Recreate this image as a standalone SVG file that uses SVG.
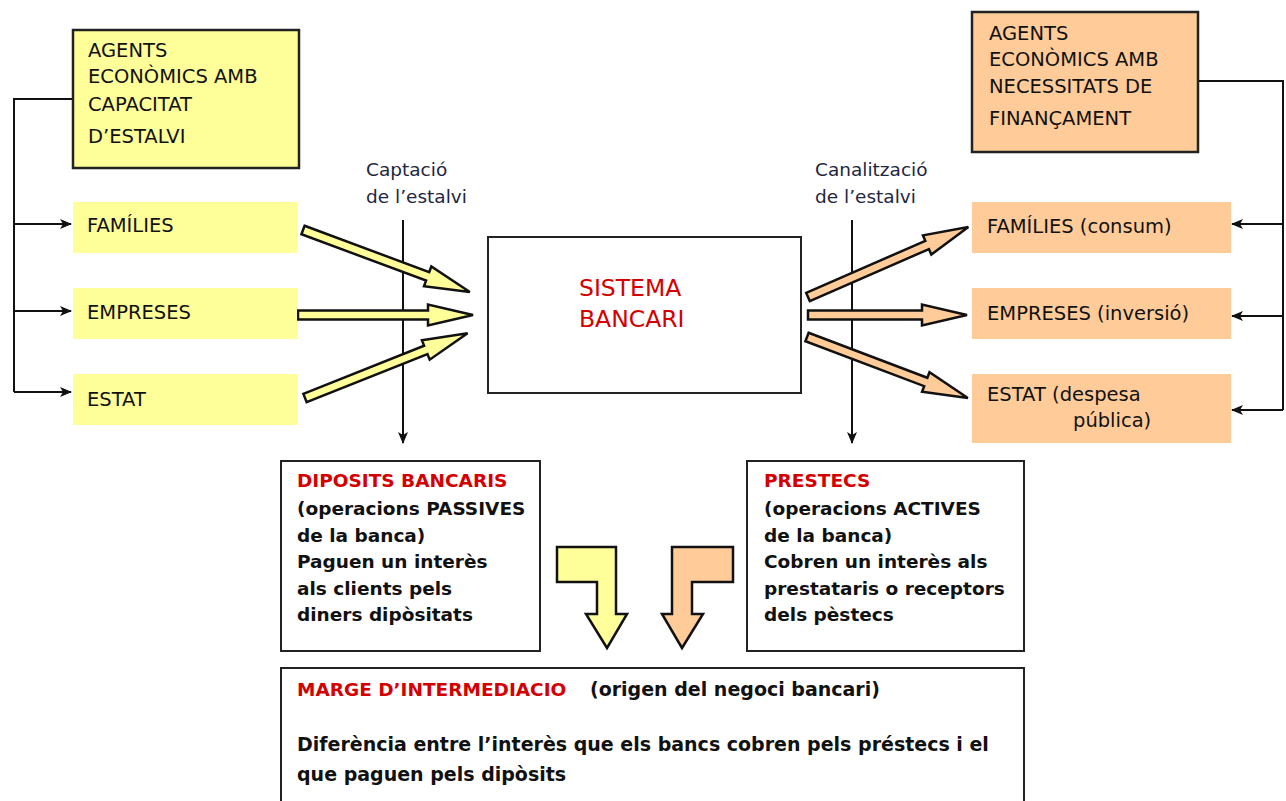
<svg xmlns="http://www.w3.org/2000/svg" width="1286" height="801" viewBox="0 0 1286 801">
<defs>
<marker id="ah" markerWidth="12" markerHeight="10" refX="11" refY="5" orient="auto" markerUnits="userSpaceOnUse">
<path d="M0,0 L12,5 L0,10 L3,5 z" fill="#111"/>
</marker>
<style>
.t{font-family:"DejaVu Sans","Liberation Sans",sans-serif;font-size:19.5px;fill:#111}
.lab{font-family:"DejaVu Sans","Liberation Sans",sans-serif;font-size:18.5px;fill:#1f2640}
.b{font-family:"DejaVu Sans","Liberation Sans",sans-serif;font-size:18.5px;font-weight:bold;fill:#111}
.m{font-size:19px}
.red{fill:#d40000}
.ybox{fill:#ffff99}
.obox{fill:#ffcc99}
.frame{stroke:#222;stroke-width:2.5}
.wbox{fill:#fff;stroke:#222;stroke-width:2}
.line{fill:none;stroke:#111;stroke-width:2}
.ya{fill:#ffff99;stroke:#111;stroke-width:2.5;stroke-linejoin:miter}
.oa{fill:#ffcc99;stroke:#111;stroke-width:2.5;stroke-linejoin:miter}
</style>
</defs>

<g id="connectors">
<path class="line" d="M73,99 H14 V392"/>
<path class="line" d="M14,224 H71" marker-end="url(#ah)"/>
<path class="line" d="M14,311 H71" marker-end="url(#ah)"/>
<path class="line" d="M14,392 H71" marker-end="url(#ah)"/>
<path class="line" d="M1198,81 H1283 V410"/>
<path class="line" d="M1283,224 H1232" marker-end="url(#ah)"/>
<path class="line" d="M1283,316 H1232" marker-end="url(#ah)"/>
<path class="line" d="M1283,410 H1232" marker-end="url(#ah)"/>
<path class="line" d="M403,220 V443" marker-end="url(#ah)"/>
<path class="line" d="M852,220 V443" marker-end="url(#ah)"/>
<!-- yellow block arrows -->
<path class="ya" transform="translate(303,230) rotate(20.4)" d="M0,-4.5 H133 V-10.5 L178,0 L133,10.5 V4.5 H0 Z"/>
<path class="ya" transform="translate(298,315)" d="M0,-4.5 H130 V-10.5 L175,0 L130,10.5 V4.5 H0 Z"/>
<path class="ya" transform="translate(305,398) rotate(-21.7)" d="M0,-4.5 H130 V-10.5 L175,0 L130,10.5 V4.5 H0 Z"/>
<!-- orange block arrows -->
<path class="oa" transform="translate(808,297) rotate(-23.6)" d="M0,-4.5 H130 V-10.5 L175,0 L130,10.5 V4.5 H0 Z"/>
<path class="oa" transform="translate(808,315)" d="M0,-4.5 H114 V-10.5 L159,0 L114,10.5 V4.5 H0 Z"/>
<path class="oa" transform="translate(807,337) rotate(20.75)" d="M0,-4.5 H127 V-10.5 L172,0 L127,10.5 V4.5 H0 Z"/>
<!-- bent arrows -->
<path class="ya" d="M557,547 H616 V614 H627 L607,648 L586,614 H597 V582 H557 Z"/>
<path class="oa" d="M672,547 H733 V582 H692 V614 H703 L682,648 L662,614 H672 Z"/>
</g>

<g id="agents-estalvi">
<rect class="ybox frame" x="73" y="30" width="226" height="138"/>
<text class="t" x="88" y="57">AGENTS</text>
<text class="t" x="88" y="83">ECONÒMICS AMB</text>
<text class="t" x="88" y="111">CAPACITAT</text>
<text class="t" x="88" y="143">D’ESTALVI</text>
</g>
<g id="families-l"><rect class="ybox" x="73" y="202" width="224" height="51"/><text class="t" x="87" y="232">FAMÍLIES</text></g>
<g id="empreses-l"><rect class="ybox" x="73" y="288" width="224" height="51"/><text class="t" x="87" y="319">EMPRESES</text></g>
<g id="estat-l"><rect class="ybox" x="73" y="374" width="224" height="51"/><text class="t" x="87" y="406">ESTAT</text></g>

<g id="captacio">
<text class="lab" x="366" y="176">Captació</text>
<text class="lab" x="366" y="203">de l’estalvi</text>
</g>
<g id="canalitzacio">
<text class="lab" x="815" y="176">Canalització</text>
<text class="lab" x="815" y="203">de l’estalvi</text>
</g>

<g id="sistema">
<rect class="wbox" x="488" y="237" width="313" height="156" stroke-width="2.5"/>
<text class="t red" x="579" y="296" style="font-size:23.5px">SISTEMA</text>
<text class="t red" x="579" y="327" style="font-size:23.5px">BANCARI</text>
</g>

<g id="agents-financament">
<rect class="obox frame" x="972" y="12" width="226" height="140"/>
<text class="t" x="989" y="40">AGENTS</text>
<text class="t" x="989" y="66">ECONÒMICS AMB</text>
<text class="t" x="989" y="93">NECESSITATS DE</text>
<text class="t" x="989" y="125">FINANÇAMENT</text>
</g>
<g id="families-r"><rect class="obox" x="972" y="202" width="259" height="51"/><text class="t" x="987" y="233">FAMÍLIES (consum)</text></g>
<g id="empreses-r"><rect class="obox" x="972" y="288" width="259" height="51"/><text class="t" x="987" y="320">EMPRESES (inversió)</text></g>
<g id="estat-r"><rect class="obox" x="972" y="374" width="259" height="69"/><text class="t" x="987" y="401">ESTAT (despesa</text><text class="t" x="1073" y="427">pública)</text></g>

<g id="diposits">
<rect class="wbox" x="281" y="461" width="259" height="190"/>
<text class="b red" x="297" y="487">DIPOSITS BANCARIS</text>
<text class="b" x="297" y="515">(operacions PASSIVES</text>
<text class="b" x="297" y="542">de la banca)</text>
<text class="b" x="297" y="568">Paguen un interès</text>
<text class="b" x="297" y="595">als clients pels</text>
<text class="b" x="297" y="621">diners dipòsitats</text>
</g>

<g id="prestecs">
<rect class="wbox" x="747" y="461" width="277" height="190"/>
<text class="b red" x="764" y="487">PRESTECS</text>
<text class="b" x="764" y="515">(operacions ACTIVES</text>
<text class="b" x="764" y="542">de la banca)</text>
<text class="b" x="764" y="568">Cobren un interès als</text>
<text class="b" x="764" y="595">prestataris o receptors</text>
<text class="b" x="764" y="621">dels pèstecs</text>
</g>

<g id="marge">
<rect class="wbox" x="281" y="668" width="743" height="150"/>
<text class="b red" x="297" y="696">MARGE D’INTERMEDIACIO</text>
<text class="b m" x="590" y="696">(origen del negoci bancari)</text>
<text class="b m" x="297" y="751">Diferència entre l’interès que els bancs cobren pels préstecs i el</text>
<text class="b m" x="297" y="781">que paguen pels dipòsits</text>
</g>
</svg>
